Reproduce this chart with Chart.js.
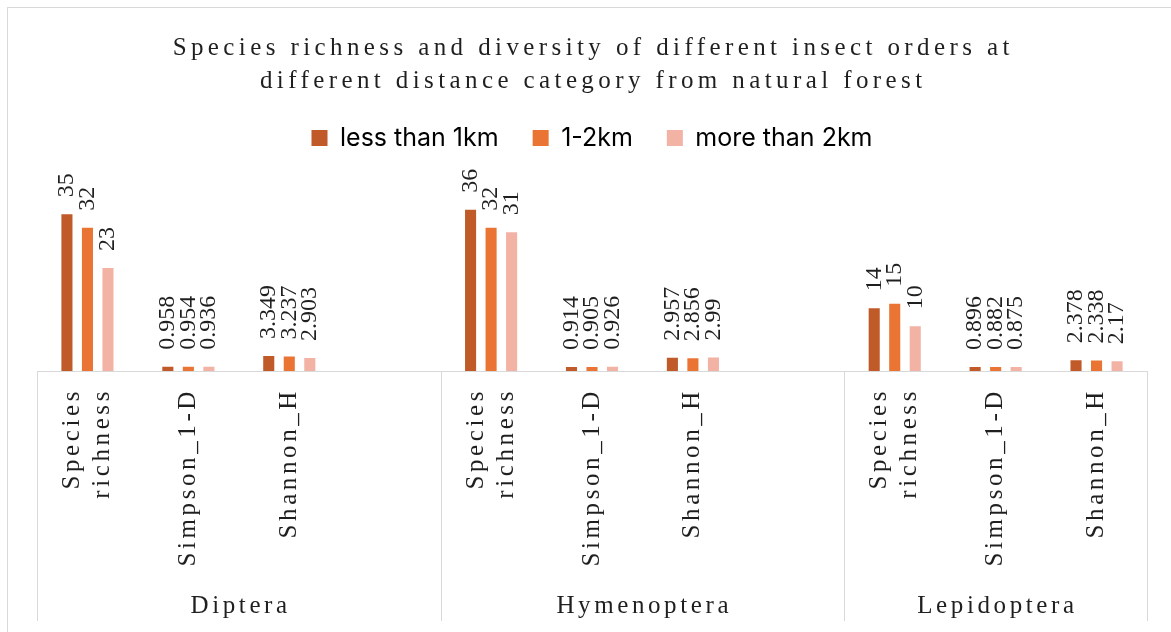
<!DOCTYPE html>
<html><head><meta charset="utf-8">
<script src="https://cdn.jsdelivr.net/npm/chart.js@4.4.1/dist/chart.umd.min.js"></script>
<style>html,body{margin:0;padding:0;background:#fff}#wrap{width:1171px;height:632px;position:relative}</style>
</head><body><div id="wrap"><canvas id="c" width="1171" height="632" style="width:1171px;height:632px"></canvas></div>
<script>
// ---- data ----
const titleLines = ['Species richness and diversity of different insect orders at', 'different distance category from natural forest'];
const groups = ['Diptera', 'Hymenoptera', 'Lepidoptera'];
const groupSizes = [4, 4, 3];
const categories = [['Species','richness'], 'Simpson_1-D', 'Shannon_H', '',
                    ['Species','richness'], 'Simpson_1-D', 'Shannon_H', '',
                    ['Species','richness'], 'Simpson_1-D', 'Shannon_H'];
const seriesNames = ['less than 1km', '1-2km', 'more than 2km'];
const lessThan1km = [35, 0.958, 3.349, null, 36, 0.914, 2.957, null, 14, 0.896, 2.378];
const km1to2      = [32, 0.954, 3.237, null, 32, 0.905, 2.856, null, 15, 0.882, 2.338];
const moreThan2km = [23, 0.936, 2.903, null, 31, 0.926, 2.99,  null, 10, 0.875, 2.17];

// ---- style ----
const COLORS = ['#C05A29', '#EA7433', '#F2B3A5'];
const SERIF = '"Liberation Serif", "Times New Roman", serif';
const TICK_LS = 3.6;
const TICK_FS = 25;

class SpacedCategoryScale extends Chart.CategoryScale {
  _computeLabelItems(area) {
    const items = super._computeLabelItems(area);
    items.forEach(it => {
      if (Array.isArray(it.label) && it.label.length > 1) it.textOffset -= (it.label.length - 1) * it.font.lineHeight / 2;
    });
    return items;
  }
  drawLabels(area) {
    const ctx = this.ctx; ctx.save(); ctx.letterSpacing = TICK_LS + 'px';
    super.drawLabels(area); ctx.restore();
  }
}
SpacedCategoryScale.id = 'spacedCategory';
SpacedCategoryScale.defaults = Chart.CategoryScale.defaults;
Chart.register(SpacedCategoryScale);

const frame = {
  id: 'frame',
  beforeDraw(chart) {
    const ctx = chart.ctx; ctx.save();
    ctx.fillStyle = '#fff'; ctx.fillRect(0, 0, chart.width, chart.height);
    ctx.strokeStyle = '#D9D9D9'; ctx.lineWidth = 1;
    ctx.strokeRect(7.5, 7.5, 1400, 900);
    ctx.fillStyle = '#1f1f1f'; ctx.font = '25px ' + SERIF;
    ctx.letterSpacing = '4.4px'; ctx.textAlign = 'center'; ctx.textBaseline = 'middle';
    ctx.fillText(titleLines[0], 591 + 2.2, 48);
    ctx.fillText(titleLines[1], 591 + 2.2, 81);
    ctx.restore();
  },
  afterDraw(chart) {
    const ctx = chart.ctx, xs = chart.scales.x; ctx.save();
    const n = categories.length;
    const b = [xs.left]; let idx = 0;
    groupSizes.forEach(s => { idx += s; b.push(idx >= n ? xs.right : (xs.getPixelForValue(idx - 1) + xs.getPixelForValue(idx)) / 2); });
    ctx.strokeStyle = '#D9D9D9'; ctx.lineWidth = 1;
    b.forEach(x => { const px = Math.round(x) + 0.5; ctx.beginPath(); ctx.moveTo(px, xs.top); ctx.lineTo(px, 621); ctx.stroke(); });
    ctx.fillStyle = '#1f1f1f'; ctx.font = TICK_FS + 'px ' + SERIF; ctx.letterSpacing = TICK_LS + 'px';
    ctx.textAlign = 'center'; ctx.textBaseline = 'middle';
    groups.forEach((g, i) => ctx.fillText(g, (b[i] + b[i + 1]) / 2 + TICK_LS / 2, 606));
    ctx.restore();
  },
  afterDatasetsDraw(chart) {
    const ctx = chart.ctx; ctx.save();
    ctx.fillStyle = '#1f1f1f'; ctx.font = '24px ' + SERIF;
    ctx.textAlign = 'left'; ctx.textBaseline = 'middle';
    chart.data.datasets.forEach((ds, i) => {
      chart.getDatasetMeta(i).data.forEach((bar, j) => {
        const v = ds.data[j]; if (v == null) return;
        ctx.save(); ctx.translate(bar.x, bar.y - 17); ctx.rotate(-Math.PI / 2);
        ctx.fillText(String(v), 0, 0); ctx.restore();
      });
    });
    ctx.restore();
  }
};

const LEG_FS = 25, LEG_PAD = 34;
new Chart(document.getElementById('c'), {
  type: 'bar',
  data: {
    labels: categories,
    datasets: [
      { label: seriesNames[0], data: lessThan1km, backgroundColor: COLORS[0] },
      { label: seriesNames[1], data: km1to2, backgroundColor: COLORS[1] },
      { label: seriesNames[2], data: moreThan2km, backgroundColor: COLORS[2] }
    ]
  },
  options: {
    responsive: false, animation: false, devicePixelRatio: 1,
    categoryPercentage: 0.61, barPercentage: 0.54,
    layout: { padding: { top: 138 - LEG_PAD - LEG_FS / 2, left: 37, right: 24, bottom: 0 } },
    plugins: {
      title: { display: false }, tooltip: { enabled: false },
      legend: { position: 'top', labels: { boxWidth: 16, boxHeight: 16, padding: LEG_PAD, color: '#000', font: { family: 'Inter', size: LEG_FS } } }
    },
    scales: {
      x: { type: 'spacedCategory', offset: true,
           grid: { display: false, drawTicks: false },
           border: { display: true, color: '#D9D9D9', width: 1 },
           ticks: { minRotation: 90, maxRotation: 90, autoSkip: false, padding: 17, color: '#1f1f1f', font: { family: SERIF, size: TICK_FS } },
           afterFit(s) { s.height = 261; } },
      y: { display: false, min: 0, max: 47.0 }
    }
  },
  plugins: [frame]
});
</script></body></html>
